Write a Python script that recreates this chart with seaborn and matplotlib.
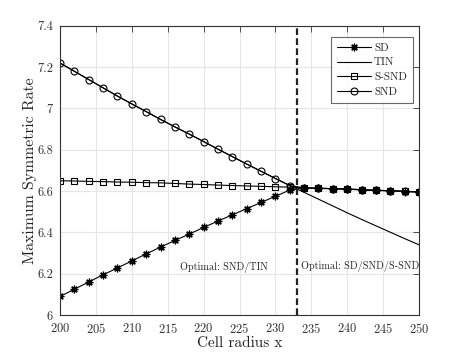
import numpy as np
import pandas as pd
import matplotlib
matplotlib.use("Agg")
import matplotlib.pyplot as plt
import seaborn as sns
from matplotlib.ticker import FuncFormatter

x = [200, 202, 204, 206, 208, 210, 212, 214, 216, 218, 220, 222, 224, 226,
     228, 230, 232, 234, 236, 238, 240, 242, 244, 246, 248, 250]
sd = [6.09, 6.125, 6.16, 6.195, 6.228, 6.262, 6.296, 6.329, 6.361, 6.392,
      6.424, 6.455, 6.485, 6.515, 6.545, 6.575, 6.605, 6.615, 6.613, 6.611,
      6.609, 6.606, 6.603, 6.601, 6.598, 6.595]
s_snd = [6.65, 6.649, 6.647, 6.646, 6.644, 6.643, 6.641, 6.640, 6.637, 6.634,
         6.632, 6.629, 6.627, 6.625, 6.623, 6.621, 6.619, 6.616, 6.614, 6.612,
         6.610, 6.607, 6.604, 6.602, 6.599, 6.596]
snd = [7.22, 7.18, 7.14, 7.10, 7.06, 7.022, 6.985, 6.947, 6.911, 6.876,
       6.840, 6.803, 6.767, 6.731, 6.696, 6.661, 6.627, 6.616, 6.614, 6.612,
       6.610, 6.607, 6.604, 6.602, 6.599, 6.596]
tin = [7.22, 7.18, 7.14, 7.10, 7.06, 7.022, 6.985, 6.947, 6.911, 6.876,
       6.840, 6.803, 6.767, 6.731, 6.696, 6.661, 6.627, 6.594, 6.561, 6.528,
       6.495, 6.463, 6.432, 6.401, 6.370, 6.340]
switch_x = 233
text_left = "Optimal: SND/TIN"
text_right = "Optimal: SD/SND/S-SND"

sns.set_style("white")
plt.rcParams['font.family'] = ['cmr10', 'DejaVu Serif']
plt.rcParams['axes.formatter.use_mathtext'] = True
plt.rcParams['mathtext.fontset'] = 'cm'

fig = plt.figure(figsize=(4.63, 3.54), dpi=100)
ax = fig.add_axes([0.1296, 0.110, 0.7754, 0.817])

df = pd.DataFrame({"x": x, "SD": sd, "TIN": tin, "S-SND": s_snd, "SND": snd})

lw = 0.8
sns.lineplot(data=df, x="x", y="SD", ax=ax, color="black", lw=lw,
             marker=(8, 2, 0), markersize=5.5, markeredgewidth=0.9,
             markeredgecolor="black", label="SD")
sns.lineplot(data=df, x="x", y="TIN", ax=ax, color="black", lw=lw, label="TIN")
sns.lineplot(data=df, x="x", y="S-SND", ax=ax, color="black", lw=lw,
             marker="s", markersize=4.2, fillstyle="none",
             markeredgewidth=0.8, markeredgecolor="black", label="S-SND")
sns.lineplot(data=df, x="x", y="SND", ax=ax, color="black", lw=lw,
             marker="o", markersize=5.0, fillstyle="none",
             markeredgewidth=0.8, markeredgecolor="black", label="SND")

ax.axvline(switch_x, color="#222222", ls=(0, (3, 1.5)), lw=1.6, zorder=5)

ax.set_xlim(200, 250)
ax.set_ylim(6, 7.4)
ax.set_xticks(np.arange(200, 251, 5))
ax.set_yticks(np.arange(6, 7.41, 0.2))
ax.yaxis.set_major_formatter(FuncFormatter(lambda v, p: f"{v:g}"))
ax.grid(True, color="#e6e6e6", lw=0.8)
ax.set_axisbelow(True)
for s in ax.spines.values():
    s.set_color("#333333")
    s.set_linewidth(0.8)
ax.tick_params(direction="in", top=True, right=True, length=4, width=0.6,
               labelsize=9, colors="#333333", labelcolor="#333333", pad=5)

ax.set_xlabel("Cell radius x", fontsize=11, color="#222222", labelpad=0)
ax.set_ylabel("Maximum Symmetric Rate", fontsize=11.3, color="#222222", labelpad=0)

ax.text(216.7, 6.23, text_left, fontsize=7.3, va="center", ha="left")
ax.text(233.6, 6.235, text_right, fontsize=7.3, va="center", ha="left")

leg = ax.legend(loc="upper right", bbox_to_anchor=(0.983, 0.962), frameon=True,
                fancybox=False, edgecolor="#444444", fontsize=8,
                handlelength=3.0, borderpad=0.55, labelspacing=0.45,
                handletextpad=0.3, borderaxespad=0)
leg.get_frame().set_linewidth(0.8)

fig.savefig("out.png", dpi=100)
